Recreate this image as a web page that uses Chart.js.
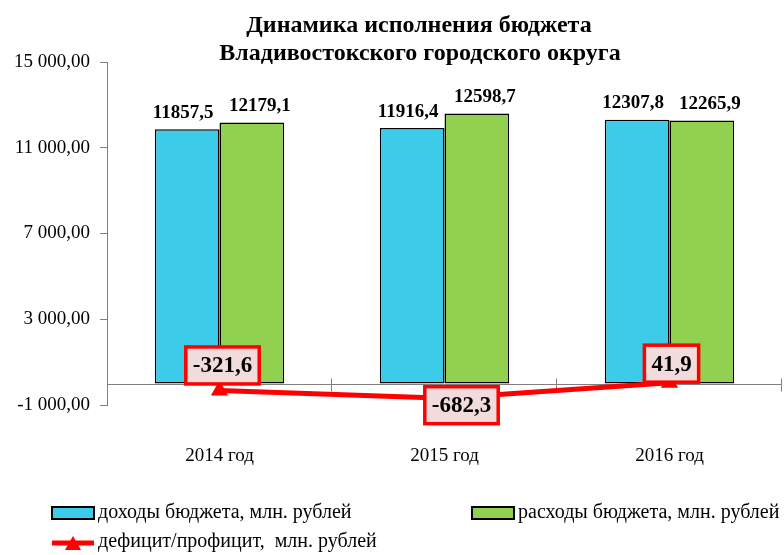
<!DOCTYPE html>
<html>
<head>
<meta charset="utf-8">
<script src="https://cdn.jsdelivr.net/npm/chart.js@4.4.1/dist/chart.umd.min.js"></script>
<style>
  html, body { margin: 0; padding: 0; background: #fff; }
  #wrap { width: 784px; height: 555px; }
</style>
</head>
<body>
<div id="wrap"><canvas id="c" width="784" height="555"></canvas></div>
<script>
// data
const years = ['2014 год', '2015 год', '2016 год'];
const income = [11857.5, 11916.4, 12307.8];
const expense = [12179.1, 12598.7, 12265.9];
const balance = [-321.6, -682.3, 41.9];
const yTicks = [-1000, 3000, 7000, 11000, 15000];
const titleLines = ['Динамика исполнения бюджета', 'Владивостокского городского округа'];
const seriesNames = ['доходы бюджета, млн. рублей', 'расходы бюджета, млн. рублей', 'дефицит/профицит,  млн. рублей'];

const BLUE = '#3ccbe8', GREEN = '#92d050', RED = '#ff0000', AXIS = '#808080';
const SERIF = '"Liberation Serif", "Times New Roman", serif';

const fmt1 = v => v.toFixed(1).replace('.', ',');
const fmtTick = v => {
  const s = Math.abs(v).toFixed(0).replace(/\B(?=(\d{3})+(?!\d))/g, ' ');
  return (v < 0 ? '-' : '') + s + ',00';
};

// zero line + category ticks, under the bars
const axisLine = {
  id: 'axisLine',
  beforeDatasetsDraw(chart) {
    const { ctx, chartArea: a, scales: { y } } = chart;
    const y0 = Math.round(y.getPixelForValue(0)) + 0.5;
    ctx.save();
    ctx.strokeStyle = AXIS;
    ctx.lineWidth = 1;
    ctx.beginPath();
    ctx.moveTo(a.left, y0);
    ctx.lineTo(a.right, y0);
    const step = (a.right - a.left) / years.length;
    for (let i = 1; i <= years.length; i++) {
      const px = Math.round(a.left + step * i) - 0.5;
      ctx.moveTo(px, y0 - 6);
      ctx.lineTo(px, y0 + 7);
    }
    ctx.stroke();
    ctx.restore();
  }
};

const decor = {
  id: 'decor',
  afterDatasetsDraw(chart) {
    const { ctx } = chart;
    ctx.save();

    // bar value labels
    ctx.fillStyle = '#000';
    ctx.font = 'bold 19px ' + SERIF;
    ctx.textAlign = 'center';
    ctx.textBaseline = 'bottom';
    [0, 1].forEach(di => {
      const shift = di === 0 ? -4 : 8;
      chart.getDatasetMeta(di).data.forEach((bar, i) => {
        const v = chart.data.datasets[di].data[i];
        ctx.fillText(fmt1(v), bar.x + shift, bar.y - 7);
      });
    });

    // deficit / surplus boxes
    const offs = [[3, -25], [17, 7], [2, -19]];
    ctx.font = 'bold 23px ' + SERIF;
    ctx.textBaseline = 'middle';
    chart.getDatasetMeta(2).data.forEach((pt, i) => {
      const txt = fmt1(balance[i]);
      const w = ctx.measureText(txt).width + 14, h = 37;
      const cx = pt.x + offs[i][0], cy = pt.y + offs[i][1];
      ctx.fillStyle = '#f2dcdb';
      ctx.fillRect(cx - w / 2, cy - h / 2, w, h);
      ctx.strokeStyle = RED;
      ctx.lineWidth = 3.5;
      ctx.strokeRect(cx - w / 2, cy - h / 2, w, h);
      ctx.fillStyle = '#000';
      ctx.fillText(txt, cx, cy + 1);
    });
    ctx.restore();
  },
  afterDraw(chart) {
    const { ctx } = chart;
    ctx.save();
    // title
    ctx.fillStyle = '#000';
    ctx.textAlign = 'center';
    ctx.textBaseline = 'alphabetic';
    ctx.font = 'bold 24px ' + SERIF;
    ctx.fillText(titleLines[0], 419, 32);
    ctx.fillText(titleLines[1], 420, 60);

    // legend
    ctx.font = '20px ' + SERIF;
    ctx.textAlign = 'left';
    ctx.textBaseline = 'middle';
    const box = (x, color) => {
      ctx.fillStyle = color;
      ctx.fillRect(x, 507, 42, 12);
      ctx.strokeStyle = '#000';
      ctx.lineWidth = 2;
      ctx.strokeRect(x, 507, 42, 12);
    };
    box(52, BLUE);
    box(472, GREEN);
    ctx.fillStyle = '#000';
    ctx.fillText(seriesNames[0], 98, 513);
    ctx.fillText(seriesNames[1], 518, 513);

    ctx.strokeStyle = RED;
    ctx.lineWidth = 5;
    ctx.beginPath();
    ctx.moveTo(52, 543);
    ctx.lineTo(94, 543);
    ctx.stroke();
    ctx.fillStyle = RED;
    ctx.beginPath();
    ctx.moveTo(73, 536);
    ctx.lineTo(81, 550);
    ctx.lineTo(65, 550);
    ctx.closePath();
    ctx.fill();
    ctx.fillStyle = '#000';
    ctx.fillText(seriesNames[2], 98, 542);
    ctx.restore();
  }
};

new Chart(document.getElementById('c'), {
  data: {
    labels: years,
    datasets: [
      { type: 'bar', label: seriesNames[0], data: income, backgroundColor: BLUE,
        borderColor: '#000', borderWidth: 1.5, borderSkipped: false,
        categoryPercentage: 0.575, barPercentage: 1, order: 2 },
      { type: 'bar', label: seriesNames[1], data: expense, backgroundColor: GREEN,
        borderColor: '#000', borderWidth: 1.5, borderSkipped: false,
        categoryPercentage: 0.575, barPercentage: 1, order: 2 },
      { type: 'line', label: seriesNames[2], data: balance, borderColor: RED,
        backgroundColor: RED, borderWidth: 5, pointStyle: 'triangle',
        pointRadius: 10, pointBorderWidth: 0, tension: 0, order: 1 }
    ]
  },
  options: {
    responsive: false,
    animation: false,
    layout: { autoPadding: false, padding: { top: 62, right: 2, left: 0, bottom: 0 } },
    plugins: { legend: { display: false }, tooltip: { enabled: false }, title: { display: false } },
    scales: {
      x: {
        grid: { display: false, drawTicks: false },
        border: { display: false },
        ticks: { color: '#000', font: { family: SERIF, size: 19 }, padding: 40 },
        afterFit(s) { s.height = 150; s.paddingLeft = 0; s.paddingRight = 0; }
      },
      y: {
        min: -1000, max: 15000,
        afterBuildTicks(s) { s.ticks = yTicks.map(v => ({ value: v })); },
        grid: { drawOnChartArea: false, tickLength: 7, color: AXIS },
        border: { color: AXIS, width: 1 },
        ticks: { color: '#000', padding: 10, font: { family: SERIF, size: 19 },
                 callback: v => fmtTick(v) },
        afterFit(s) { s.width = 107; }
      }
    }
  },
  plugins: [axisLine, decor]
});
</script>
</body>
</html>
